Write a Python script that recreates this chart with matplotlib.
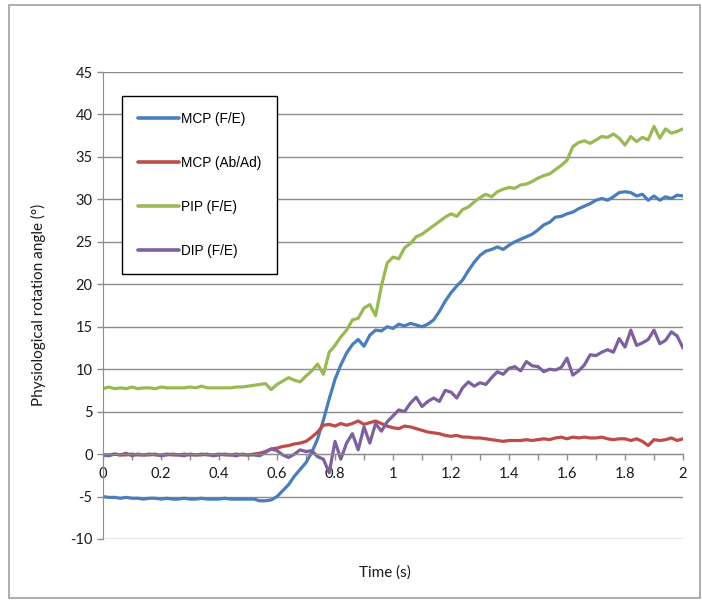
import numpy as np
import matplotlib
matplotlib.use("Agg")
import matplotlib.pyplot as plt
from matplotlib.patches import Rectangle

plt.rcParams["axes.unicode_minus"] = False

# sample times (s), every 0.02 s
time_s = [round(0.02 * i, 2) for i in range(101)]

mcp_fe = [
    -5.0, -5.1, -5.1, -5.2, -5.1, -5.2, -5.2, -5.3, -5.2, -5.2,
    -5.3, -5.2, -5.3, -5.3, -5.2, -5.3, -5.3, -5.2, -5.3, -5.3,
    -5.3, -5.2, -5.3, -5.3, -5.3, -5.3, -5.3, -5.5, -5.5, -5.4,
    -5.0, -4.3, -3.6, -2.6, -1.8, -1.0, 0.2, 1.8, 4.0, 6.5,
    8.8, 10.5, 11.9, 12.9, 13.5, 12.7, 14.0, 14.6, 14.5, 15.0,
    14.8, 15.3, 15.1, 15.4, 15.2, 15.0, 15.3, 15.8, 16.8, 18.0,
    19.0, 19.8, 20.5, 21.6, 22.6, 23.4, 23.9, 24.1, 24.4, 24.1,
    24.6, 25.0, 25.3, 25.6, 25.9, 26.4, 27.0, 27.3, 27.9, 28.0,
    28.3, 28.5, 28.9, 29.2, 29.5, 29.9, 30.1, 29.9, 30.3, 30.8,
    30.9, 30.8, 30.4, 30.6, 29.9, 30.4, 29.9, 30.3, 30.1, 30.5,
    30.4,
]

mcp_abad = [
    -0.1, -0.1, 0.0, -0.1, -0.1, 0.0, -0.1, -0.1, 0.0, -0.1,
    -0.1, 0.0, -0.1, -0.1, 0.0, -0.1, -0.1, 0.0, -0.1, -0.1,
    0.0, -0.1, -0.1, 0.0, -0.1, -0.1, 0.0, 0.1, 0.3, 0.6,
    0.7, 0.9, 1.0, 1.2, 1.3, 1.5, 2.0, 2.6, 3.4, 3.5,
    3.3, 3.6, 3.4, 3.6, 3.9, 3.5, 3.7, 3.9, 3.6, 3.3,
    3.1, 3.0, 3.3, 3.2, 3.0, 2.8, 2.6, 2.5, 2.4, 2.2,
    2.1, 2.2, 2.0, 2.0, 1.9, 1.9, 1.8, 1.7, 1.6, 1.5,
    1.6, 1.6, 1.6, 1.7, 1.6, 1.7, 1.8, 1.7, 1.9, 2.0,
    1.8, 2.0, 1.9, 2.0, 1.9, 1.9, 2.0, 1.8, 1.7, 1.8,
    1.8, 1.6, 1.8, 1.5, 1.0, 1.7, 1.6, 1.7, 1.9, 1.6,
    1.8,
]

pip_fe = [
    7.7, 7.9, 7.7, 7.8, 7.7, 7.9, 7.7, 7.8, 7.8, 7.7,
    7.9, 7.8, 7.8, 7.8, 7.8, 7.9, 7.8, 8.0, 7.8, 7.8,
    7.8, 7.8, 7.8, 7.9, 7.9, 8.0, 8.1, 8.2, 8.3, 7.6,
    8.2, 8.6, 9.0, 8.7, 8.5, 9.2, 9.8, 10.6, 9.4, 12.0,
    12.8, 13.8, 14.6, 15.8, 16.0, 17.2, 17.6, 16.3, 19.8, 22.5,
    23.2, 23.0, 24.3, 24.8, 25.6, 25.9, 26.4, 26.9, 27.4, 27.9,
    28.3, 28.0, 28.8, 29.1, 29.7, 30.2, 30.6, 30.3, 30.9, 31.2,
    31.4, 31.3, 31.7, 31.8, 32.1, 32.5, 32.8, 33.0, 33.5, 34.0,
    34.6, 36.2, 36.7, 36.9, 36.6, 37.0, 37.4, 37.3, 37.7, 37.2,
    36.4, 37.4, 36.8, 37.3, 37.0, 38.6, 37.2, 38.3, 37.8, 38.0,
    38.3,
]

dip_fe = [
    -0.1, -0.2, 0.0, -0.1, 0.1, -0.2, 0.0, -0.1, -0.1, 0.0,
    -0.2, -0.1, 0.0, -0.1, -0.2, 0.0, -0.1, -0.1, 0.0, -0.2,
    -0.1, 0.0, -0.1, -0.2, 0.0, -0.1, -0.1, -0.2, 0.2, 0.6,
    0.4, -0.1, -0.4, 0.0, 0.5, 0.3, 0.4, -0.3, -0.6, -2.2,
    1.5, -0.6, 1.3, 2.4, 0.5, 3.2, 1.3, 3.6, 2.7, 3.8,
    4.5, 5.2, 5.0, 6.0, 6.7, 5.6, 6.2, 6.6, 6.2, 7.5,
    7.3, 6.6, 7.8, 8.5, 8.0, 8.4, 8.2, 9.0, 9.7, 9.4,
    10.1, 10.3, 9.8, 10.9, 10.4, 10.3, 9.7, 10.0, 9.9, 10.2,
    11.3, 9.3, 9.8, 10.5, 11.7, 11.6, 12.0, 12.3, 12.0, 13.6,
    12.6, 14.6, 12.8, 13.1, 13.5, 14.6, 13.0, 13.4, 14.4, 13.9,
    12.5,
]

series_labels = ["MCP (F/E)", "MCP (Ab/Ad)", "PIP (F/E)", "DIP (F/E)"]
series_colors = ["#4A7EBB", "#BE4B48", "#98B954", "#7D60A0"]
y_ticks = list(range(-10, 50, 5))
x_ticks = [0, 0.2, 0.4, 0.6, 0.8, 1, 1.2, 1.4, 1.6, 1.8, 2]
x_tick_labels = ["0", "0.2", "0.4", "0.6", "0.8", "1", "1.2", "1.4", "1.6", "1.8", "2"]

W, H = 702, 606
fig = plt.figure(figsize=(W / 100, H / 100), dpi=100)
fig.patch.set_facecolor("white")
ax = fig.add_axes([103 / W, 1 - 539 / H, 580 / W, 467 / H])

grid_color = "#8C8C8C"
for series, color, label in zip([mcp_fe, mcp_abad, pip_fe, dip_fe], series_colors, series_labels):
    ax.plot(time_s, series, color=color, lw=2.3, label=label,
            solid_joinstyle="round", solid_capstyle="round")

ax.set_xlim(0, 2)
ax.set_ylim(-10, 45)
ax.set_yticks(y_ticks)
ax.set_xticks(x_ticks)
ax.set_xticklabels(x_tick_labels)
ax.set_xticks(np.arange(0.1, 2.0, 0.2), minor=True)
ax.yaxis.grid(True, color=grid_color, lw=1.0)
ax.set_axisbelow(True)

for side in ["top", "right"]:
    ax.spines[side].set_visible(False)
ax.spines["bottom"].set_position(("data", 0))
ax.spines["bottom"].set_color(grid_color)
ax.spines["left"].set_color(grid_color)

ax.tick_params(axis="both", which="both", color=grid_color, length=4, width=1, labelcolor="#1a1a1a")
ax.tick_params(axis="x", pad=5)
for lbl in ax.get_xticklabels() + ax.get_yticklabels():
    lbl.set_fontfamily("Lato")
    lbl.set_fontsize(10.5)

fig.text(38 / W, 1 - 305 / H, "Physiological rotation angle (°)", rotation=90,
         ha="center", va="center", family="Lato", size=11, color="#1a1a1a")
fig.text(385 / W, 1 - 573 / H, "Time (s)", ha="center", va="center",
         family="Lato", size=11, color="#1a1a1a")

leg = ax.legend(loc="upper left", bbox_to_anchor=(0.033, 0.949), frameon=True,
                fancybox=False, edgecolor="black", framealpha=1,
                prop=dict(family="Liberation Sans", size=9.8),
                handlelength=3.0, handletextpad=0.1, labelspacing=2.2,
                borderpad=1.2, borderaxespad=0)
leg.get_frame().set_linewidth(1.0)
for line in leg.get_lines():
    line.set_linewidth(2.6)

fig.patches.append(Rectangle((9 / W, 1 - 598 / H), 691 / W, 593 / H,
                             transform=fig.transFigure, fill=False,
                             edgecolor="#A0A0A0", lw=1.2))

fig.savefig("out.png", dpi=100)
